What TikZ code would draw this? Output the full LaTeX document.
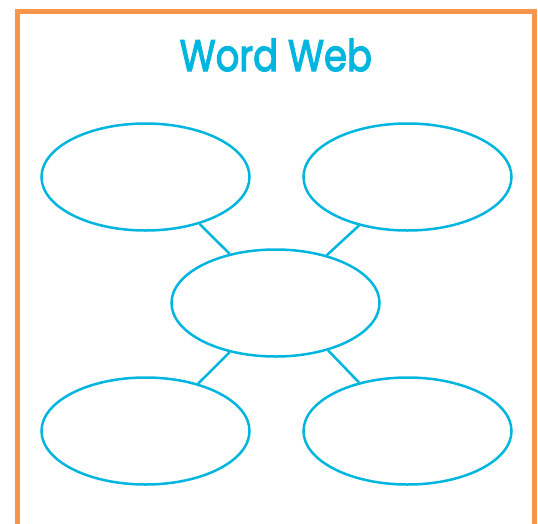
\documentclass[tikz,border=0pt]{standalone}
\usepackage{fontspec}
\setmainfont{Poppins}
\newfontfamily\titlefont[FakeBold=2.8]{Poppins}
\usetikzlibrary{shapes.geometric}
\definecolor{webblue}{HTML}{00B6DE}
\definecolor{frameorange}{HTML}{F7964A}
\tikzset{
  bubble/.style={ellipse, draw=webblue, line width=2.5pt, minimum width=208pt, minimum height=107pt, inner sep=0pt},
  link/.style={draw=webblue, line width=2.5pt},
}
\begin{document}
\begin{tikzpicture}[x=1pt,y=-1pt]
\useasboundingbox (0,0) rectangle (538,523);
\fill[white] (0,0) rectangle (538,523);
\draw[frameorange, line width=5pt] (17,11.5) rectangle (534.5,560);
\node[anchor=base, text=webblue, xscale=0.84, font=\titlefont\fontsize{44}{50}\selectfont, inner sep=0pt] (title) at (275.8,71) {Word Web};
\node[bubble] (tl) at (145.5,177) {};
\node[bubble] (tr) at (407.5,177) {};
\node[bubble] (c) at (275.5,303) {};
\node[bubble] (bl) at (145.5,431) {};
\node[bubble] (br) at (407.5,431) {};
\draw[link] (tl.-41) -- (c.133);
\draw[link] (tr.-135) -- (c.43);
\draw[link] (bl.42) -- (c.-133);
\draw[link] (br.135) -- (c.-42);
\end{tikzpicture}
\end{document}
